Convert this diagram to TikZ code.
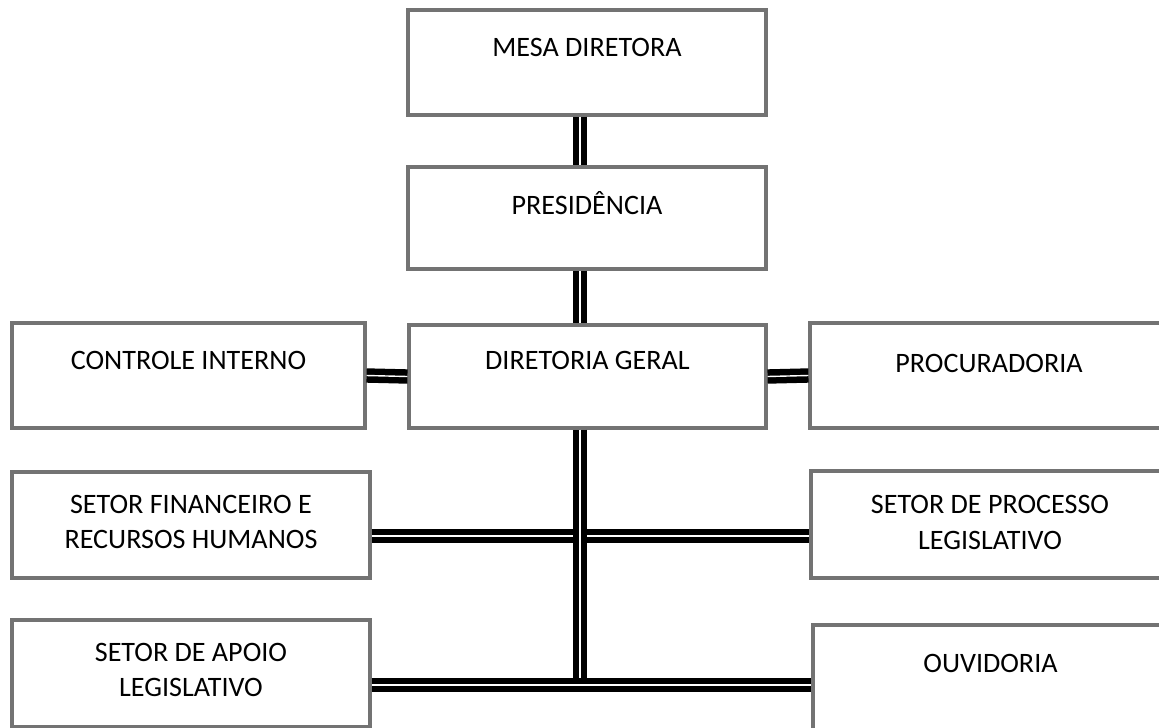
\documentclass[tikz,border=0pt]{standalone}
\usepackage{fontspec}
\setmainfont{Carlito}
\begin{document}
\begin{tikzpicture}
[x=0.02cm,y=-0.02cm,%
  caixa/.style={shape=rectangle,draw=black!55,line width=1.8pt,inner sep=0pt},%
  rotulo/.style={align=center,inner sep=0pt,font=\fontsize{16}{20}\selectfont},%
  ligacao/.style={-,line width=3.7pt,draw=black,double=white,double distance=0.8pt}]
\useasboundingbox (0,0) rectangle (1159,727);
\clip (0,0) rectangle (1159,727);
%% caixas
\foreach \nodename/\x/\y/\w/\h in {mesa/587/62.5/358/105, pres/587/218/358/102,
  dg/587.5/376.5/357/103, ci/188.5/375.5/353/105, proc/989/375.5/358/105,
  sfin/191/525/358/106, sproc/990/524.5/358/107, apoio/191/673.5/358/107,
  ouv/990.5/680/355/110} {
  \node (\nodename) at (\x,\y) [caixa,minimum width=\w*0.02cm,minimum height=\h*0.02cm] {};
}
%% textos
\foreach \nodename/\dy/\texto in {mesa/0.3cm/{MESA DIRETORA}, pres/0.3cm/{PRESIDÊNCIA},
  dg/0.32cm/{DIRETORIA GERAL}, ci/0.31cm/{CONTROLE INTERNO}, proc/0.25cm/{PROCURADORIA},
  sfin/0.06cm/{SETOR FINANCEIRO E\\RECURSOS HUMANOS}, sproc/0.04cm/{SETOR DE PROCESSO\\LEGISLATIVO},
  apoio/0.07cm/{SETOR DE APOIO\\LEGISLATIVO}, ouv/0.34cm/{OUVIDORIA}} {
  \node (\nodename-t) at ([yshift=\dy]\nodename.center) [rotulo] {\texto};
}
%% linhas
\coordinate (eixo) at (580,0);
\coordinate (nivela) at (0,536);
\coordinate (nivelb) at (0,685);
\draw[ligacao] (mesa.south -| eixo) -- (pres.north -| eixo);
\draw[ligacao] (pres.south -| eixo) -- (dg.north -| eixo);
\draw[ligacao] (ci.east) -- (dg.west);
\draw[ligacao] (dg.east) -- (proc.west);
\draw[ligacao] (sfin.east |- nivela) -- (sproc.west |- nivela);
\draw[ligacao] (dg.south -| eixo) -- (eixo |- nivelb);
\draw[ligacao] (apoio.east |- nivelb) -- (ouv.west |- nivelb);
\end{tikzpicture}
\end{document}
